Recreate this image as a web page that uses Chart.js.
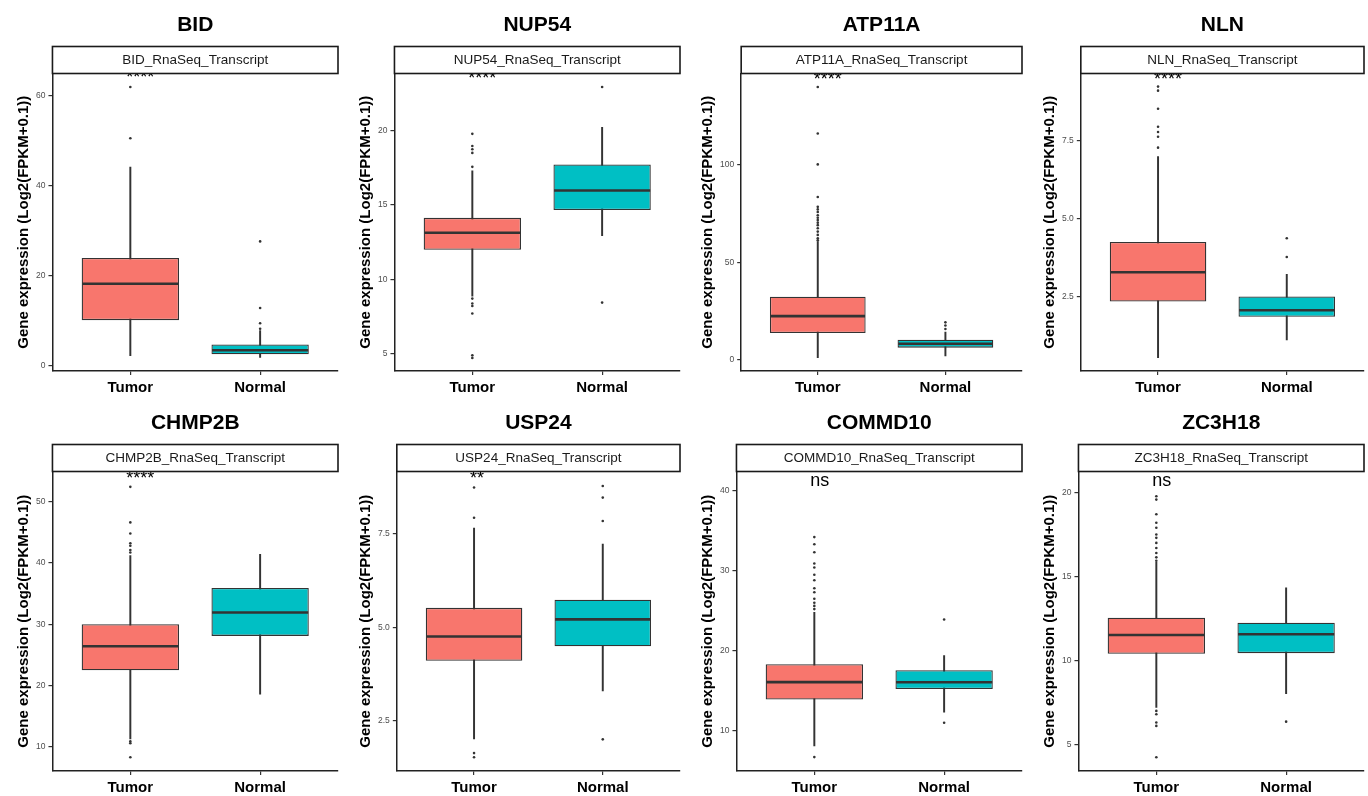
<!DOCTYPE html>
<html>
<head>
<meta charset="utf-8">
<script src="https://cdn.jsdelivr.net/npm/chart.js@4.4.1/dist/chart.umd.min.js"></script>
<style>
  body { margin: 0; background: #fff; overflow: hidden; }
  #grid { position: relative; width: 1368px; height: 796px; overflow: hidden; }
  .cell { position: absolute; width: 342px; }
</style>
</head>
<body>
<div id="grid"></div>
<script>
const genes = ["BID", "NUP54", "ATP11A", "NLN", "CHMP2B", "USP24", "COMMD10", "ZC3H18"];
const groups = ["Tumor", "Normal"];
const sigLabels = ["****", "****", "****", "****", "****", "**", "ns", "ns"];
const sigY = [64.7, 23.7, 145.5, 9.59, 54.2, 9.07, 41.2, 20.65];

// box stats, one value per gene
const tumorLow  = [2.3, 8.87, 1.0, 0.55, 11.3, 2.0, 8.1, 7.22];
const tumorQ1   = [10.2, 11.98, 13.6, 2.35, 22.5, 4.10, 13.9, 10.41];
const tumorMed  = [18.3, 13.13, 22.3, 3.29, 26.4, 4.75, 16.07, 11.53];
const tumorQ3   = [24.0, 14.13, 32.2, 4.26, 30.0, 5.52, 18.3, 12.55];
const tumorHigh = [44.2, 17.3, 60.6, 7.0, 41.2, 7.66, 24.8, 15.85];

const normalLow  = [1.9, 12.93, 1.9, 1.12, 18.6, 3.29, 12.3, 8.04];
const normalQ1   = [2.6, 14.66, 6.1, 1.86, 28.1, 4.49, 15.2, 10.45];
const normalMed  = [3.5, 15.97, 8.1, 2.07, 31.9, 5.21, 16.05, 11.57];
const normalQ3   = [4.8, 17.72, 10.2, 2.51, 35.9, 5.74, 17.55, 12.26];
const normalHigh = [7.9, 20.22, 14.1, 3.22, 41.4, 7.23, 19.4, 14.33];

// outliers
const tumorOut = [
  [62.0, 50.6],
  [19.78, 18.96, 18.74, 18.5, 17.56, 8.70, 8.37, 8.2, 7.7, 4.89, 4.71],
  [140, 116.1, 100.2, 83.5, 78.4, 77.1, 75.8, 74.1, 72.8, 71.6, 70.3, 69.0, 67.4, 65.7, 64.0, 62.3, 61.2],
  [7.29, 7.64, 7.79, 7.96, 8.54, 9.12, 9.25],
  [52.4, 46.6, 44.8, 43.2, 42.8, 42.1, 41.7, 10.9, 10.6, 8.3],
  [8.75, 7.94, 1.62, 1.51],
  [34.2, 33.3, 32.3, 30.9, 30.4, 29.5, 28.8, 27.8, 27.3, 26.5, 26.0, 25.6, 25.2, 6.7],
  [19.77, 19.57, 18.7, 18.2, 17.9, 17.5, 17.3, 17.0, 16.7, 16.4, 16.14, 15.94, 7.02, 6.82, 6.33, 6.13, 4.27]
];
const normalOut = [
  [27.7, 12.9, 9.5, 8.3],
  [22.93, 8.43],
  [19.1, 17.5, 15.7],
  [4.38, 3.78],
  [],
  [8.79, 8.48, 7.85, 1.99],
  [23.9, 11.0],
  [6.38]
];

// axes
const yMin = [-1.1, 3.83, -5.9, 0.12, 6.07, 1.14, 4.96, 3.45];
const yMax = [65.0, 23.84, 146.9, 9.67, 54.9, 9.18, 42.4, 21.24];
const yTicks = [
  [0, 20, 40, 60], [5, 10, 15, 20], [0, 50, 100], [2.5, 5.0, 7.5],
  [10, 20, 30, 40, 50], [2.5, 5.0, 7.5], [10, 20, 30, 40], [5, 10, 15, 20]
];

const fillColors = ["#F8766D", "#00BFC4"];
const ink = "#333333";
const FONT = '"Liberation Sans", Arial, sans-serif';

const lows = [tumorLow, normalLow];
const q1s = [tumorQ1, normalQ1];
const meds = [tumorMed, normalMed];
const q3s = [tumorQ3, normalQ3];
const highs = [tumorHigh, normalHigh];
const outs = [tumorOut, normalOut];

const panelDecor = {
  id: "panelDecor",
  afterDatasetsDraw(chart, args, opts) {
    const i = opts.index;
    const { ctx, scales: { x, y } } = chart;
    const boxMeta = chart.getDatasetMeta(0);
    ctx.save();
    ctx.strokeStyle = ink;
    ctx.lineWidth = 2.6;
    boxMeta.data.forEach((bar, k) => {
      const yy = y.getPixelForValue(meds[k][i]);
      ctx.beginPath();
      ctx.moveTo(bar.x - bar.width / 2 + 0.6, yy);
      ctx.lineTo(bar.x + bar.width / 2 - 0.6, yy);
      ctx.stroke();
    });
    // significance label; asterisks sit high in the em box so push them down a bit
    const size = 18;
    const shift = sigLabels[i].includes("*") ? size * 0.2 : 0;
    ctx.fillStyle = "#000";
    ctx.font = size + "px " + FONT;
    ctx.textAlign = "left";
    ctx.textBaseline = "middle";
    ctx.fillText(sigLabels[i], x.getPixelForValue(1) - 4, y.getPixelForValue(sigY[i]) + shift);
    ctx.restore();
  },
  afterDraw(chart, args, opts) {
    const i = opts.index;
    const { ctx, chartArea: a } = chart;
    const stripH = 27;
    const cx = (a.left + a.right) / 2;
    ctx.save();
    ctx.fillStyle = "#fff";
    ctx.fillRect(a.left, a.top - stripH, a.right - a.left, stripH);
    ctx.strokeStyle = "#1a1a1a";
    ctx.lineWidth = 1.6;
    ctx.strokeRect(a.left, a.top - stripH, a.right - a.left, stripH);
    ctx.fillStyle = "#1a1a1a";
    ctx.font = "13.5px " + FONT;
    ctx.textAlign = "center";
    ctx.textBaseline = "middle";
    ctx.fillText(genes[i] + "_RnaSeq_Transcript", cx, a.top - stripH / 2 + 0.5);
    ctx.fillStyle = "#000";
    ctx.font = "bold 21px " + FONT;
    ctx.fillText(genes[i], cx, a.top - stripH - 21);
    ctx.restore();
  }
};

function makeChart(i) {
  const row = Math.floor(i / 4);
  const cell = document.createElement("div");
  cell.className = "cell";
  cell.style.left = (i % 4) * 342 + "px";
  cell.style.top = row * 398 + "px";
  const canvas = document.createElement("canvas");
  canvas.width = 342;
  canvas.height = row === 0 ? 401 : 403;   // transparent canvases, the overlap is harmless
  cell.appendChild(canvas);
  document.getElementById("grid").appendChild(cell);

  const decimals = yTicks[i].some(v => !Number.isInteger(v)) ? 1 : 0;

  const outlierPoints = [];
  groups.forEach((g, k) => {
    outs[k][i].forEach(v => outlierPoints.push({ x: k + 1, y: v }));
  });

  const axisGrid = {
    display: true, drawOnChartArea: false, drawTicks: true,
    tickLength: 4, color: ink, lineWidth: 1.2, offset: false
  };
  const axisBorder = { display: true, color: "#222", width: 1.5 };

  new Chart(canvas, {
    type: "bar",
    data: {
      datasets: [
        {
          label: "box",
          data: groups.map((g, k) => ({ x: k + 1, y: [q1s[k][i], q3s[k][i]] })),
          backgroundColor: fillColors,
          borderColor: ink,
          borderWidth: 1.3,
          borderSkipped: false,
          barPercentage: 0.75,
          categoryPercentage: 1,
          grouped: false
        },
        {
          label: "whisker",
          data: groups.map((g, k) => ({ x: k + 1, y: [lows[k][i], highs[k][i]] })),
          backgroundColor: ink,
          borderWidth: 0,
          barPercentage: 1,
          categoryPercentage: 1,
          maxBarThickness: 1.3,
          grouped: false
        },
        {
          type: "scatter",
          label: "outliers",
          data: outlierPoints,
          pointRadius: 1.3,
          pointBackgroundColor: ink,
          pointBorderWidth: 0
        }
      ]
    },
    options: {
      responsive: false,
      animation: false,
      layout: { padding: { top: 73.5, left: 13.5, right: 4, bottom: 0 } },
      plugins: {
        legend: { display: false },
        tooltip: { enabled: false },
        panelDecor: { index: i }
      },
      scales: {
        x: {
          type: "linear",
          min: 0.4,
          max: 2.6,
          offset: false,
          afterBuildTicks: s => { s.ticks = groups.map((g, k) => ({ value: k + 1 })); },
          ticks: {
            callback: v => groups[v - 1],
            color: "#000",
            font: { family: FONT, size: 15, weight: "bold" },
            padding: 4,
            maxRotation: 0,
            autoSkip: false
          },
          grid: axisGrid,
          border: axisBorder
        },
        y: {
          min: yMin[i],
          max: yMax[i],
          beginAtZero: false,
          afterBuildTicks: s => { s.ticks = yTicks[i].map(v => ({ value: v })); },
          ticks: {
            callback: v => Number(v).toFixed(decimals),
            color: "#4d4d4d",
            font: { family: FONT, size: 8.5 },
            padding: 3
          },
          grid: axisGrid,
          border: axisBorder,
          title: {
            display: true,
            text: "Gene expression (Log2(FPKM+0.1))",
            color: "#000",
            font: { family: FONT, size: 15, weight: "bold" },
            padding: { top: 1, bottom: 0.5 }
          }
        }
      }
    },
    plugins: [panelDecor]
  });
}

genes.forEach((g, i) => makeChart(i));
</script>
</body>
</html>
